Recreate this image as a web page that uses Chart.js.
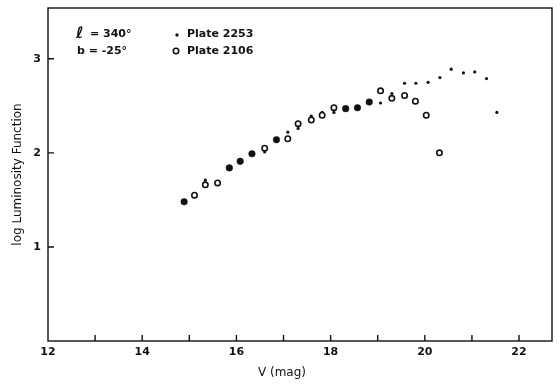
<!DOCTYPE html>
<html>
<head>
<meta charset="utf-8">
<script src="https://cdn.jsdelivr.net/npm/chart.js@4/dist/chart.umd.min.js"></script>
<style>
html,body{margin:0;padding:0;background:#fff;}
#wrap{width:560px;height:388px;}
</style>
</head>
<body>
<div id="wrap"><canvas id="c" width="560" height="388"></canvas></div>
<script>
// Plate 2253 (small dots)
const plate2253V = [15.34,16.60,17.09,17.31,17.59,17.82,18.07,19.06,19.30,19.57,19.81,20.07,20.32,20.56,20.82,21.06,21.31,21.53];
const plate2253L = [1.71,2.01,2.22,2.26,2.39,2.43,2.43,2.53,2.63,2.74,2.74,2.75,2.80,2.89,2.85,2.86,2.79,2.43];
// Plate 2106 (open circles)
const plate2106V = [15.11,15.34,15.60,16.60,17.09,17.31,17.59,17.82,18.07,19.06,19.30,19.57,19.80,20.03,20.31];
const plate2106L = [1.55,1.66,1.68,2.05,2.15,2.31,2.35,2.40,2.48,2.66,2.58,2.61,2.55,2.40,2.00];
// Coinciding points of both plates (filled circles)
const bothV = [14.89,15.85,16.08,16.33,16.85,18.32,18.57,18.82];
const bothL = [1.48,1.84,1.91,1.99,2.14,2.47,2.48,2.54];
const xTickValues = [12,13,14,15,16,17,18,19,20,21,22];
const yTickValues = [1,2,3];

const toPts = (xs, ys) => xs.map((x, i) => ({x: x, y: ys[i]}));
const FONT = "'DejaVu Sans', sans-serif";

const framePlugin = {
  id: 'frame',
  afterDraw(chart) {
    const ctx = chart.ctx, a = chart.chartArea;
    const xs = chart.scales.x, ys = chart.scales.y;
    ctx.save();
    ctx.strokeStyle = '#111';
    ctx.lineWidth = 1.4;
    ctx.strokeRect(a.left, a.top, a.right - a.left, a.bottom - a.top);
    ctx.beginPath();
    xTickValues.forEach(v => {
      const px = xs.getPixelForValue(v);
      if (px > a.left + 1 && px < a.right - 1) {
        ctx.moveTo(px, a.bottom);
        ctx.lineTo(px, a.bottom - 6);
      }
    });
    yTickValues.forEach(v => {
      const py = ys.getPixelForValue(v);
      ctx.moveTo(a.left, py);
      ctx.lineTo(a.left + 6, py);
    });
    ctx.stroke();

    ctx.fillStyle = '#111';
    // x axis title
    ctx.textAlign = 'center';
    ctx.textBaseline = 'middle';
    ctx.font = '12px ' + FONT;
    ctx.fillText('V (mag)', 282, 373);

    // legend / annotation block
    ctx.textAlign = 'left';
    ctx.font = 'bold italic 16px ' + FONT;
    ctx.fillText('ℓ', 76, 34);
    ctx.font = 'bold 11px ' + FONT;
    ctx.fillText('= 340°', 90, 34);
    ctx.fillText('b = -25°', 77, 51);
    ctx.fillText('Plate 2253', 187, 34);
    ctx.fillText('Plate 2106', 187, 51);
    ctx.beginPath();
    ctx.arc(177, 35, 1.7, 0, Math.PI * 2);
    ctx.fill();
    ctx.beginPath();
    ctx.lineWidth = 1.6;
    ctx.arc(176, 51, 2.7, 0, Math.PI * 2);
    ctx.stroke();
    ctx.restore();
  }
};

new Chart(document.getElementById('c'), {
  type: 'scatter',
  data: {
    datasets: [
      {label: 'both', data: toPts(bothV, bothL), pointRadius: 3.3, pointBackgroundColor: '#111', pointBorderColor: '#111', pointBorderWidth: 0.5},
      {label: 'Plate 2106', data: toPts(plate2106V, plate2106L), pointRadius: 2.7, pointBackgroundColor: '#fff', pointBorderColor: '#111', pointBorderWidth: 1.6},
      {label: 'Plate 2253', data: toPts(plate2253V, plate2253L), pointRadius: 1.6, pointBackgroundColor: '#111', pointBorderColor: '#111', pointBorderWidth: 0}
    ]
  },
  options: {
    responsive: false,
    animation: false,
    devicePixelRatio: 1,
    layout: {padding: {top: 8, right: 8, left: 0, bottom: 0}},
    plugins: {legend: {display: false}, tooltip: {enabled: false}},
    scales: {
      x: {
        type: 'linear', min: 12, max: 22.7,
        afterBuildTicks: s => { s.ticks = xTickValues.map(v => ({value: v})); },
        afterFit: s => { s.height = 47; s.paddingLeft = 0; s.paddingRight = 0; },
        grid: {display: false, drawTicks: false},
        border: {display: false},
        ticks: {
          padding: 5, color: '#111', maxRotation: 0, autoSkip: false,
          font: {family: FONT, size: 11, weight: 'bold'},
          callback: v => (v % 2 === 0 ? String(v) : '')
        },
        title: {display: false}
      },
      y: {
        type: 'linear', min: 0, max: 3.54,
        afterBuildTicks: s => { s.ticks = yTickValues.map(v => ({value: v})); },
        afterFit: s => { s.width = 48; s.paddingTop = 0; s.paddingBottom = 0; },
        grid: {display: false, drawTicks: false},
        border: {display: false},
        ticks: {
          padding: 7, color: '#111',
          font: {family: FONT, size: 11, weight: 'bold'}
        },
        title: {display: true, text: 'log Luminosity Function', color: '#111', font: {family: FONT, size: 12}, padding: {top: 11, bottom: 0}}
      }
    }
  },
  plugins: [framePlugin]
});
</script>
</body>
</html>
